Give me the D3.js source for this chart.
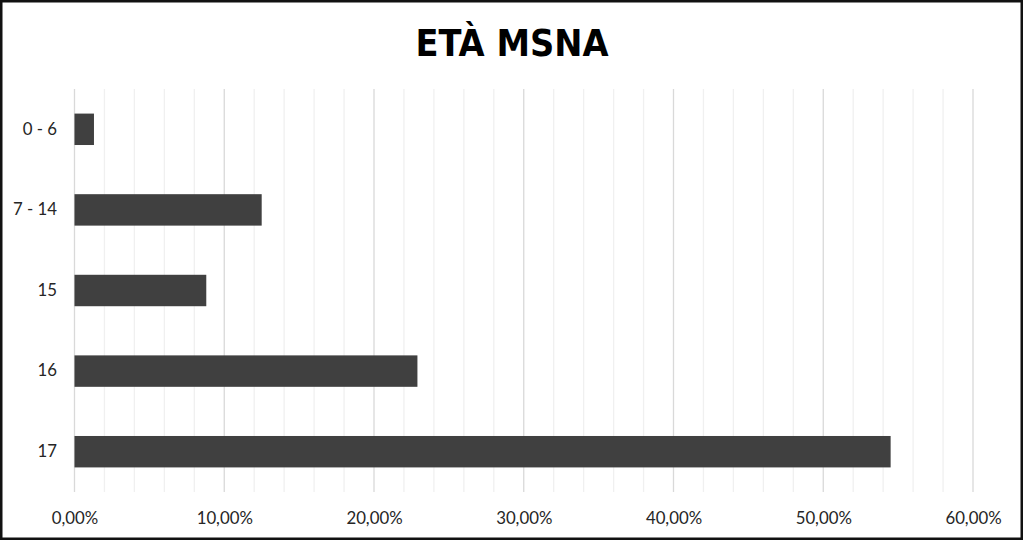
<html>
<head>
    <meta http-equiv="Content-Type" content="text/html;charset=utf-8">
    <title>Età MSNA</title>
    <style>
        body { margin: 0; background: #fff; }
        .tick-label { font-family: Lato, 'Open Sans', sans-serif; font-size: 16.8px; fill: #262626; }
        .chart-title { font-family: 'DejaVu Sans Condensed', 'DejaVu Sans', sans-serif; font-weight: bold; font-size: 38px; fill: #000; }
    </style>
</head>
<body>
<script type="text/javascript" src="https://cdn.jsdelivr.net/npm/d3@7/dist/d3.min.js"></script>
<script>
    var w = 1024, h = 541;
    var margin = {top: 89, right: 51, bottom: 49, left: 74.5};

    var categories = ['0 - 6', '7 - 14', '15', '16', '17'];
    var values = [1.3, 12.5, 8.8, 22.9, 54.5];
    var majorTicks = [0, 10, 20, 30, 40, 50, 60];
    var minorTicks = d3.range(0, 61, 2);

    var svg = d3.select('body')
            .append('svg')
            .attr('width', w)
            .attr('height', h);

    // outer frame
    svg.append('rect')
            .attr('x', 1.25).attr('y', 1.25)
            .attr('width', w - 3.5).attr('height', h - 3.5)
            .attr('fill', '#fff')
            .attr('stroke', '#111')
            .attr('stroke-width', 2.5);

    svg.append('text')
            .attr('class', 'chart-title')
            .attr('x', w / 2)
            .attr('y', 56)
            .attr('text-anchor', 'middle')
            .attr('textLength', 193)
            .attr('lengthAdjust', 'spacingAndGlyphs')
            .text('ETÀ MSNA');

    var x = d3.scaleLinear()
            .domain([0, 60])
            .range([margin.left, w - margin.right]);

    var y = d3.scaleBand()
            .domain(categories)
            .range([margin.top, h - margin.bottom])
            .paddingInner(0.61)
            .paddingOuter(0.305);

    // gridlines: light minor every 2%, slightly darker major every 10%
    svg.selectAll('line.minor')
            .data(minorTicks.filter(function (d) { return d % 10 !== 0; }))
            .enter()
            .append('line')
            .attr('class', 'minor')
            .attr('x1', function (d) { return x(d); })
            .attr('x2', function (d) { return x(d); })
            .attr('y1', margin.top)
            .attr('y2', h - margin.bottom)
            .attr('stroke', '#f0f0f0')
            .attr('stroke-width', 1.3);

    svg.selectAll('line.major')
            .data(majorTicks)
            .enter()
            .append('line')
            .attr('class', 'major')
            .attr('x1', function (d) { return x(d); })
            .attr('x2', function (d) { return x(d); })
            .attr('y1', margin.top)
            .attr('y2', h - margin.bottom)
            .attr('stroke', '#d9d9d9')
            .attr('stroke-width', 1.3);

    svg.selectAll('rect.bar')
            .data(values)
            .enter()
            .append('rect')
            .attr('class', 'bar')
            .attr('x', x(0))
            .attr('y', function (d, i) { return y(categories[i]); })
            .attr('width', function (d) { return x(d) - x(0); })
            .attr('height', y.bandwidth())
            .attr('fill', '#404040');

    var xAxis = d3.axisBottom(x)
            .tickValues(majorTicks)
            .tickSize(0)
            .tickPadding(0)
            .tickFormat(function (d) { return d3.format('.2f')(d).replace('.', ',') + '%'; });

    var gx = svg.append('g')
            .attr('transform', 'translate(0,' + 524 + ')')
            .call(xAxis);
    gx.select('.domain').remove();
    gx.selectAll('text').attr('class', 'tick-label').attr('dy', 0).attr('fill', null);

    var yAxis = d3.axisLeft(y).tickSize(0).tickPadding(0);
    var gy = svg.append('g')
            .attr('transform', 'translate(57,0)')
            .call(yAxis);
    gy.select('.domain').remove();
    gy.selectAll('text').attr('class', 'tick-label').attr('fill', null);
</script>
</body>
</html>
